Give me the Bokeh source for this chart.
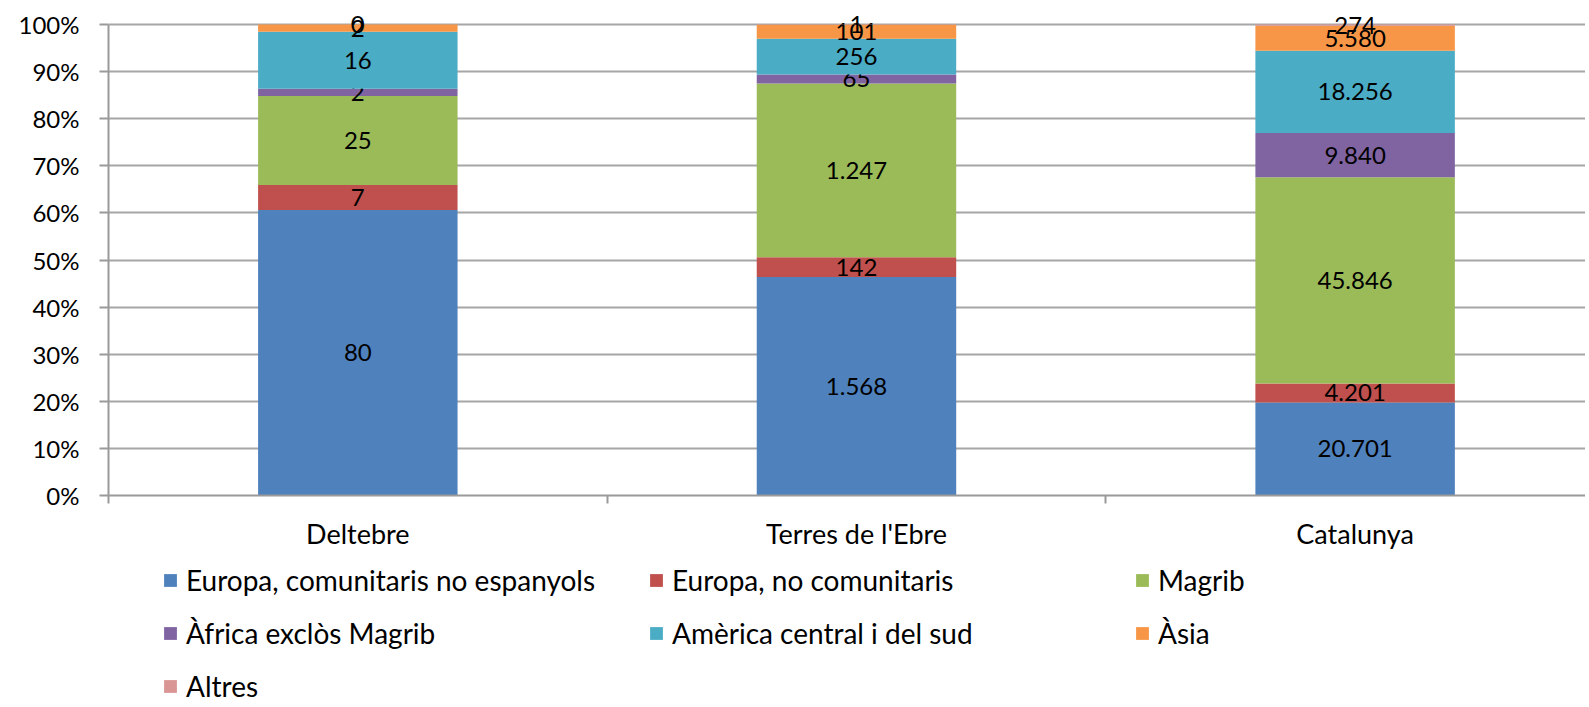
import pandas as pd
from bokeh.plotting import figure
from bokeh.layouts import column
from bokeh.models import (ColumnDataSource, FixedTicker, NumeralTickFormatter,
                          Legend, LegendItem, Range1d)
from bokeh.core.properties import value
from bokeh.embed import file_html
from bokeh.resources import INLINE

categories = ["Deltebre", "Terres de l'Ebre", "Catalunya"]
series_names = ["Europa, comunitaris no espanyols", "Europa, no comunitaris", "Magrib",
                "Àfrica exclòs Magrib", "Amèrica central i del sud", "Àsia", "Altres"]
europa_com = [80, 1568, 20701]
europa_nocom = [7, 142, 4201]
magrib = [25, 1247, 45846]
africa = [2, 65, 9840]
america = [16, 256, 18256]
asia = [2, 101, 5580]
altres = [0, 1, 274]
colors = ["#4F81BD", "#C0504D", "#9BBB59", "#8064A2", "#4BACC6", "#F79646", "#D99694"]

FONT = "Lato"
series = [europa_com, europa_nocom, magrib, africa, america, asia, altres]
df = pd.DataFrame({name: vals for name, vals in zip(series_names, series)})
totals = df.sum(axis=1)
share = df.div(totals, axis=0)
tops = share.cumsum(axis=1)
bottoms = tops - share
xs = list(range(len(categories)))

W = 1585
p = figure(width=W, height=560, output_backend="svg", toolbar_location=None,
           x_range=Range1d(-0.5, 2.462), y_range=Range1d(0, 1.051),
           min_border_left=108, min_border_right=0, min_border_top=0, min_border_bottom=65)
p.outline_line_color = None

for i, name in enumerate(series_names):
    src = ColumnDataSource(dict(x=xs, top=tops[name].values, bottom=bottoms[name].values,
                                mid=((tops[name] + bottoms[name]) / 2).values,
                                lab=[f"{v:,}".replace(",", ".") for v in df[name].values]))
    p.vbar(x="x", top="top", bottom="bottom", width=0.4, source=src,
           fill_color=colors[i], line_color=None)
    p.text(x="x", y="mid", text="lab", source=src, text_align="center", text_baseline="middle",
           text_font=value(FONT), text_font_size="24px", text_color="black")

# axes
p.yaxis.ticker = FixedTicker(ticks=[i / 10 for i in range(11)])
p.yaxis.formatter = NumeralTickFormatter(format="0%")
p.yaxis.bounds = (0, 1)
p.xaxis.ticker = FixedTicker(ticks=xs, minor_ticks=[-0.5, 0.5, 1.5])
p.xaxis.major_label_overrides = {i: c for i, c in enumerate(categories)}
p.xaxis.major_tick_out = 0
p.xaxis.major_tick_in = 0
p.xaxis.minor_tick_out = 8
p.xaxis.minor_tick_in = 0
p.xaxis.major_label_standoff = 13
p.yaxis.major_tick_out = 9
p.yaxis.major_tick_in = 0
p.yaxis.minor_tick_out = 0
p.yaxis.minor_tick_in = 0
p.yaxis.major_label_standoff = 20
for ax in (p.xaxis, p.yaxis):
    ax.axis_line_color = "#9A9A9A"
    ax.axis_line_width = 2
    ax.major_tick_line_color = "#9A9A9A"
    ax.major_tick_line_width = 2
    ax.minor_tick_line_color = "#9A9A9A"
    ax.minor_tick_line_width = 2
    ax.major_label_text_font = FONT
    ax.major_label_text_color = "black"
p.yaxis.major_label_text_font_size = "24px"
p.xaxis.major_label_text_font_size = "27px"
p.xgrid.grid_line_color = None
p.ygrid.grid_line_color = "#A6A6A6"
p.ygrid.grid_line_width = 2

# legend in its own strip below the chart (its frame is aligned with the chart's)
pl = figure(width=W, height=147, output_backend="svg", toolbar_location=None,
            x_range=Range1d(-0.5, 2.462), y_range=Range1d(0, 1),
            min_border_left=0, min_border_right=0, min_border_top=0, min_border_bottom=0)
pl.axis.visible = False
pl.grid.visible = False
pl.outline_line_color = None
items = []
for i, name in enumerate(series_names):
    r = pl.vbar(x=xs, top=share[name].values, width=0.4, fill_color=colors[i],
                line_color=None, visible=False)
    items.append(LegendItem(label=name, renderers=[r]))
legend = Legend(items=items, ncols=3, orientation="horizontal",
                location=(54, 4), glyph_width=16, glyph_height=16,
                label_width=443, label_height=30, label_standoff=8, spacing=19,
                padding=0, margin=0, border_line_color=None, background_fill_alpha=0,
                inactive_fill_alpha=0,
                label_text_font=FONT, label_text_font_size="28px", label_text_color="black")
pl.add_layout(legend, "center")

open("out.html", "w").write(file_html(column(p, pl, spacing=0), INLINE))
